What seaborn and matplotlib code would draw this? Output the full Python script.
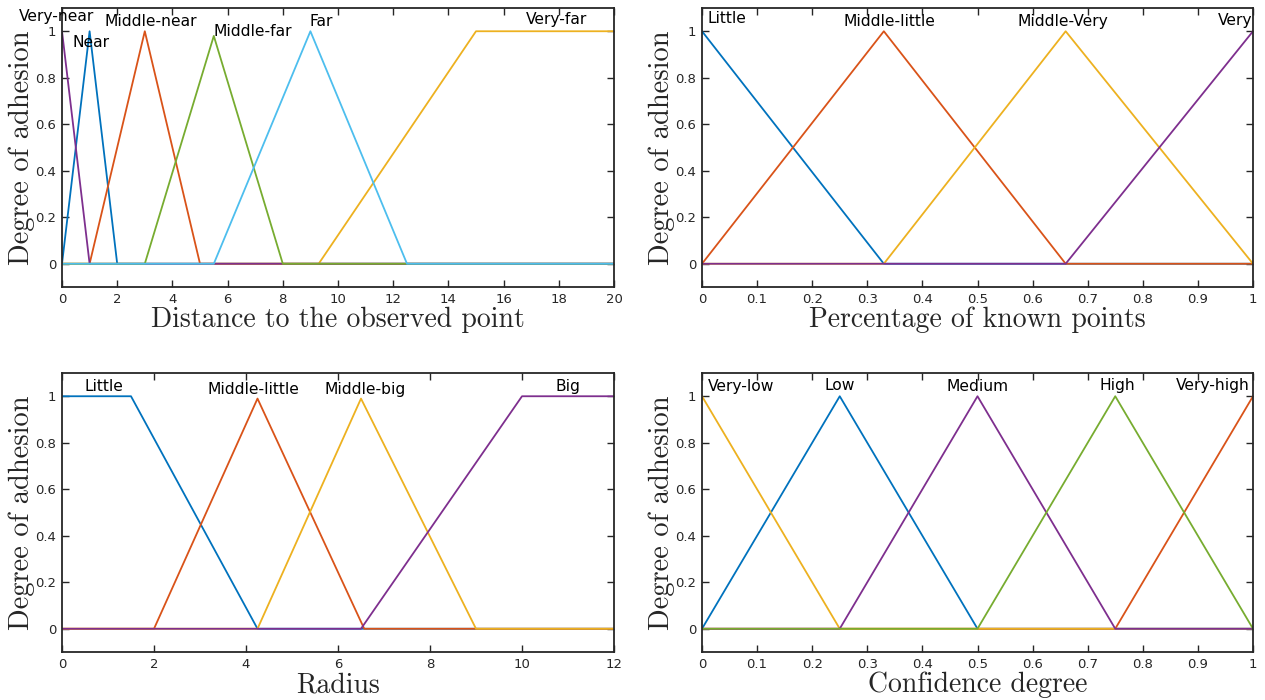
import numpy as np
import pandas as pd
import seaborn as sns
import matplotlib
matplotlib.use("Agg")
import matplotlib.pyplot as plt

sns.set_theme(style="white")
plt.rcParams['font.family'] = ['DejaVu Sans']

# MATLAB default colour order
C_BLUE = "#0072BD"
C_ORANGE = "#D95319"
C_YELLOW = "#EDB120"
C_PURPLE = "#7E2F8E"
C_GREEN = "#77AC30"
C_LBLUE = "#4DBEEE"

# ---- Panel 1: distance to the observed point ----
dist_names = ["Near", "Middle-near", "Very-far", "Very-near", "Middle-far", "Far"]
dist_x = [
    [0, 1, 2, 20],
    [0, 1, 3, 5, 20],
    [0, 9.3, 15, 20],
    [0, 1, 20],
    [0, 3, 5.5, 8, 20],
    [0, 5.5, 9, 12.5, 20],
]
dist_y = [
    [0, 1, 0, 0],
    [0, 0, 1, 0, 0],
    [0, 0, 1, 1],
    [1, 0, 0],
    [0, 0, 0.98, 0, 0],
    [0, 0, 1, 0, 0],
]
dist_colors = [C_BLUE, C_ORANGE, C_YELLOW, C_PURPLE, C_GREEN, C_LBLUE]
dist_labels = ["Very-near", "Near", "Middle-near", "Middle-far", "Far", "Very-far"]
dist_lab_x = [-0.2, 1.05, 3.2, 6.9, 9.4, 17.9]
dist_lab_y = [1.065, 0.95, 1.04, 1.0, 1.04, 1.05]

# ---- Panel 2: percentage of known points ----
perc_names = ["Little", "Middle-little", "Middle-Very", "Very"]
perc_x = [
    [0, 0.33, 1],
    [0, 0.33, 0.66, 1],
    [0, 0.33, 0.66, 1],
    [0, 0.66, 1],
]
perc_y = [
    [1, 0, 0],
    [0, 1, 0, 0],
    [0, 0, 1, 0],
    [0, 0, 1],
]
perc_colors = [C_BLUE, C_ORANGE, C_YELLOW, C_PURPLE]
perc_labels = ["Little", "Middle-little", "Middle-Very", "Very"]
perc_lab_x = [0.045, 0.34, 0.655, 0.967]
perc_lab_y = [1.056, 1.04, 1.04, 1.047]

# ---- Panel 3: radius ----
rad_names = ["Little", "Middle-little", "Middle-big", "Big"]
rad_x = [
    [0, 1.5, 4.25, 12],
    [0, 2, 4.25, 6.57, 12],
    [0, 4.25, 6.5, 9, 12],
    [0, 6.5, 10, 12],
]
rad_y = [
    [1, 1, 0, 0],
    [0, 0, 0.99, 0, 0],
    [0, 0, 0.99, 0, 0],
    [0, 0, 1, 1],
]
rad_colors = [C_BLUE, C_ORANGE, C_YELLOW, C_PURPLE]
rad_labels = ["Little", "Middle-little", "Middle-big", "Big"]
rad_lab_x = [0.91, 4.17, 6.6, 11.0]
rad_lab_y = [1.043, 1.03, 1.03, 1.043]

# ---- Panel 4: confidence degree ----
conf_names = ["Low", "Very-high", "Very-low", "Medium", "High"]
conf_x = [
    [0, 0.25, 0.5, 1],
    [0, 0.75, 1],
    [0, 0.25, 1],
    [0, 0.25, 0.5, 0.75, 1],
    [0, 0.5, 0.75, 1],
]
conf_y = [
    [0, 1, 0, 0],
    [0, 0, 1],
    [1, 0, 0],
    [0, 0, 1, 0, 0],
    [0, 0, 1, 0],
]
conf_colors = [C_BLUE, C_ORANGE, C_YELLOW, C_PURPLE, C_GREEN]
conf_labels = ["Very-low", "Low", "Medium", "High", "Very-high"]
conf_lab_x = [0.07, 0.25, 0.5, 0.753, 0.927]
conf_lab_y = [1.043, 1.045, 1.04, 1.045, 1.045]

fig = plt.figure(figsize=(12.65, 7.0), dpi=100)
axes = [
    fig.add_axes([62 / 1265, 1 - 287 / 700, 552 / 1265, 279 / 700]),
    fig.add_axes([702 / 1265, 1 - 287 / 700, 551 / 1265, 279 / 700]),
    fig.add_axes([62 / 1265, 1 - 652 / 700, 552 / 1265, 279 / 700]),
    fig.add_axes([702 / 1265, 1 - 652 / 700, 551 / 1265, 279 / 700]),
]

panels = [
    (dist_names, dist_x, dist_y, dist_colors, dist_labels, dist_lab_x, dist_lab_y,
     (0, 20), np.arange(0, 21, 2), "Distance to the observed point"),
    (perc_names, perc_x, perc_y, perc_colors, perc_labels, perc_lab_x, perc_lab_y,
     (0, 1), np.round(np.arange(0, 1.01, 0.1), 1), "Percentage of known points"),
    (rad_names, rad_x, rad_y, rad_colors, rad_labels, rad_lab_x, rad_lab_y,
     (0, 12), np.arange(0, 13, 2), "Radius"),
    (conf_names, conf_x, conf_y, conf_colors, conf_labels, conf_lab_x, conf_lab_y,
     (0, 1), np.round(np.arange(0, 1.01, 0.1), 1), "Confidence degree"),
]

def fmt(v):
    return "%g" % v

for ax, (names, xs, ys, cols, labs, lx, ly, xlim, xt, xlabel) in zip(axes, panels):
    for n, x, y, c in zip(names, xs, ys, cols):
        df = pd.DataFrame({"x": x, "y": y})
        sns.lineplot(data=df, x="x", y="y", ax=ax, color=c, lw=1.3,
                     sort=False, estimator=None)
    for t, x, y in zip(labs, lx, ly):
        ax.text(x, y, t, ha="center", va="center", fontsize=11.2, color="black")
    ax.set_xlim(*xlim)
    ax.set_ylim(-0.1, 1.1)
    ax.set_xticks(xt)
    ax.set_xticklabels([fmt(v) for v in xt])
    yt = [0, 0.2, 0.4, 0.6, 0.8, 1]
    ax.set_yticks(yt)
    ax.set_yticklabels([fmt(v) for v in yt])
    ax.tick_params(direction="in", length=5, width=1, top=True, right=True,
                   bottom=True, left=True, labelsize=9.5, colors="#262626",
                   labelcolor="#262626", pad=4)
    for sp in ax.spines.values():
        sp.set_visible(True)
        sp.set_color("#262626")
        sp.set_linewidth(1.3)
    ax.set_xlabel(xlabel, family="cmr10", fontsize=20, labelpad=1)
    ax.set_ylabel("Degree of adhesion", family="cmr10", fontsize=20.5, labelpad=0)
    ax.grid(False)

fig.savefig("out.png", dpi=100)
